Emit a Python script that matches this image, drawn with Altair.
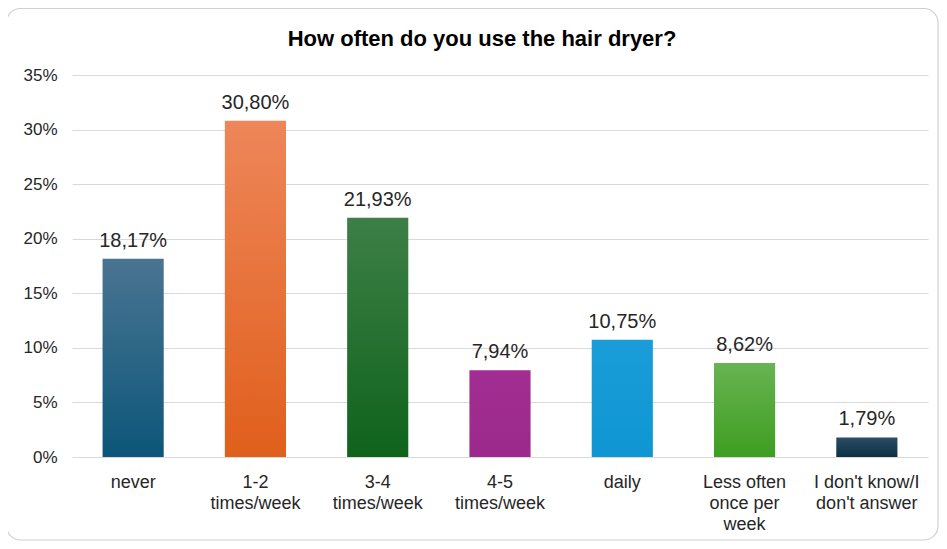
import altair as alt
import pandas as pd

title_text = "How often do you use the hair dryer?"
categories = ["never", "1-2|times/week", "3-4|times/week", "4-5|times/week",
              "daily", "Less often|once per|week", "I don't know/I|don't answer"]
values = [18.17, 30.80, 21.93, 7.94, 10.75, 8.62, 1.79]
y_ticks = [0, 5, 10, 15, 20, 25, 30, 35]

bar_top = ["#4a7492", "#ee8659", "#3d7f47", "#a32d92", "#1a9dd8", "#68b352", "#2c4d63"]
bar_bottom = ["#0c5679", "#e05f1c", "#0f631b", "#9b2a8c", "#0f96d3", "#3e9e20", "#0d3047"]

df = pd.DataFrame({"cat": categories, "pct": values})

W, H = 856, 382
PL, PT, PR, PB = 64, 67, 11, 84

x_enc = alt.X("cat:N", sort=categories,
              scale=alt.Scale(paddingInner=0.5, paddingOuter=0.25),
              axis=alt.Axis(title=None, labelAngle=0, domain=False, ticks=False,
                            labelPadding=16, labelFontSize=18, labelColor="#262626",
                            labelFont="Liberation Sans", labelLineHeight=21,
                            labelExpr="split(datum.label, '|')", labelBaseline="top"))
y_enc = alt.Y("pct:Q", scale=alt.Scale(domain=[0, 35], nice=False),
              axis=alt.Axis(title=None, values=y_ticks, domain=False, ticks=False,
                            labelPadding=15, labelFontSize=17, labelColor="#262626",
                            labelFont="Liberation Sans", labelExpr="datum.value + '%'",
                            gridColor="#d9d9d9", gridWidth=1))

base = alt.Chart(df)

border = alt.Chart(alt.Data(values=[{}])).mark_rect(
    fill=None, stroke="#d0d0d0", strokeWidth=1.2, cornerRadius=14
).encode(x=alt.value(-PL - 2 + 0.5), x2=alt.value(W + PR - 1),
         y=alt.value(-PT + 0.5), y2=alt.value(H + PB - 1))

title = alt.Chart(alt.Data(values=[{"t": title_text}])).mark_text(
    font="Liberation Sans", fontSize=22, fontWeight="bold", color="#000000",
    align="center", baseline="alphabetic"
).encode(x=alt.value(410), y=alt.value(-29), text="t:N")

layers = [border, title]
for i, c in enumerate(categories):
    grad = alt.Gradient(gradient="linear",
                        stops=[alt.GradientStop(color=bar_top[i], offset=0),
                               alt.GradientStop(color=bar_bottom[i], offset=1)],
                        x1=0, x2=0, y1=0, y2=1)
    layers.append(
        base.transform_filter(alt.datum.cat == c)
        .mark_bar(color=grad)
        .encode(x=x_enc, y=y_enc)
    )

labels = base.transform_calculate(
    lbl="replace(format(datum.pct, '.2f'), '.', ',') + '%'"
).mark_text(baseline="alphabetic", dy=-12, fontSize=20, font="Liberation Sans",
            color="#262626").encode(x=alt.X("cat:N", sort=categories), y="pct:Q",
                                   text="lbl:N")
layers.append(labels)

chart = alt.layer(*layers).properties(
    width=W, height=H,
    autosize=alt.AutoSizeParams(type="none"),
    padding={"left": PL, "top": PT, "right": PR, "bottom": PB},
).configure_view(stroke=None)

chart.save("out.html", embed_options={"renderer": "svg", "actions": False})
